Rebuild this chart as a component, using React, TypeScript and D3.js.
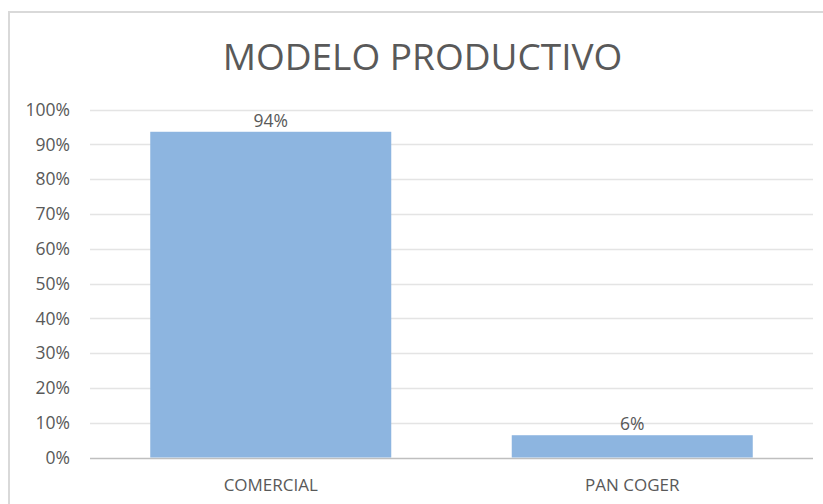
import React from "react";
import * as d3 from "d3";

const categories: string[] = ["COMERCIAL", "PAN COGER"];
const values: number[] = [0.936, 0.064];
const valueLabels: string[] = ["94%", "6%"];
const yTicks: number[] = [0, 0.1, 0.2, 0.3, 0.4, 0.5, 0.6, 0.7, 0.8, 0.9, 1.0];
const title = "MODELO PRODUCTIVO";

const W = 823;
const H = 504;
const FONT = "'Open Sans', 'Noto Sans', sans-serif";
const TEXT = "#595959";

export default function App() {
  const x = d3
    .scaleBand<string>()
    .domain(categories)
    .range([90, 813])
    .paddingInner(1 / 3)
    .paddingOuter(1 / 6);
  const y = d3.scaleLinear().domain([0, 1]).range([457.5, 109.5]);
  const fmt = d3.format(".0%");

  return (
    <svg
      width={W}
      height={H}
      style={{ position: "absolute", left: 0, top: 0, background: "#fff" }}
      fontFamily={FONT}
    >
      <rect x={0} y={0} width={W} height={H} fill="#fff" />
      {/* chart frame */}
      <rect x={9} y={12} width={W + 20} height={H + 20} fill="none" stroke="#d9d9d9" strokeWidth={2} />
      <text x={422.5} y={69.5} textAnchor="middle" fontSize={37} fill={TEXT}>
        {title}
      </text>
      {/* gridlines */}
      {yTicks.map((t) => (
        <line
          key={"g" + t}
          x1={90}
          x2={813}
          y1={Math.round(y(t)) + 0.5}
          y2={Math.round(y(t)) + 0.5}
          stroke={t === 0 ? "#bfbfbf" : "#e4e4e4"}
          strokeWidth={t === 0 ? 1.5 : 1.5}
        />
      ))}
      {yTicks.map((t) => (
        <text
          key={"t" + t}
          x={70}
          y={y(t)}
          dy="0.36em"
          textAnchor="end"
          fontSize={17.5}
          fill={TEXT}
        >
          {fmt(t)}
        </text>
      ))}
      {/* bars */}
      {categories.map((c, i) => (
        <rect
          key={"b" + c}
          x={x(c)!}
          y={y(values[i])}
          width={x.bandwidth()}
          height={y(0) - y(values[i])}
          fill="#8db5e0"
        />
      ))}
      {categories.map((c, i) => (
        <text
          key={"v" + c}
          x={x(c)! + x.bandwidth() / 2}
          y={y(values[i]) - 5}
          textAnchor="middle"
          fontSize={17.5}
          fill={TEXT}
        >
          {valueLabels[i]}
        </text>
      ))}
      {categories.map((c) => (
        <text
          key={"c" + c}
          x={x(c)! + x.bandwidth() / 2}
          y={491}
          textAnchor="middle"
          fontSize={17}
          fill={TEXT}
        >
          {c}
        </text>
      ))}
    </svg>
  );
}
